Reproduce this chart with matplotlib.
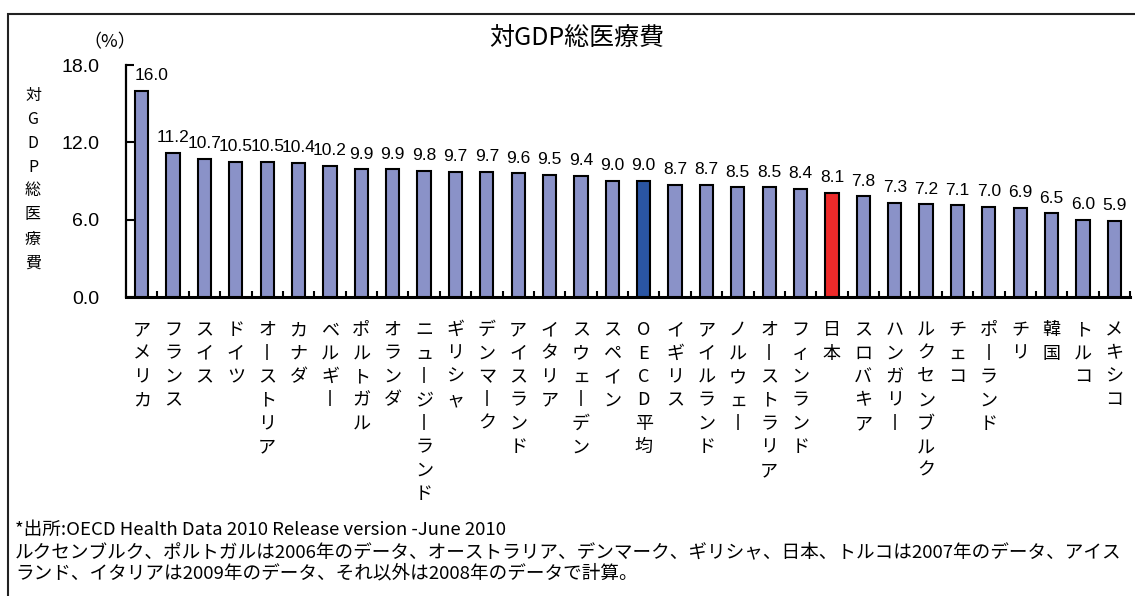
import matplotlib
matplotlib.use("Agg")
import matplotlib.pyplot as plt
from matplotlib.patches import Rectangle

# ---------------- data ----------------
countries = ["アメリカ", "フランス", "スイス", "ドイツ", "オーストリア", "カナダ", "ベルギー",
             "ポルトガル", "オランダ", "ニュージーランド", "ギリシャ", "デンマーク", "アイスランド",
             "イタリア", "スウェーデン", "スペイン", "OECD平均", "イギリス", "アイルランド",
             "ノルウェー", "オーストラリア", "フィンランド", "日本", "スロバキア", "ハンガリー",
             "ルクセンブルク", "チェコ", "ポーランド", "チリ", "韓国", "トルコ", "メキシコ"]
values = [16.0, 11.2, 10.7, 10.5, 10.5, 10.4, 10.2, 9.9, 9.9, 9.8, 9.7, 9.7, 9.6, 9.5, 9.4,
          9.0, 9.0, 8.7, 8.7, 8.5, 8.5, 8.4, 8.1, 7.8, 7.3, 7.2, 7.1, 7.0, 6.9, 6.5, 6.0, 5.9]
yticks = [0.0, 6.0, 12.0, 18.0]
title = "対GDP総医療費"
ylabel = "対GDP総医療費"
unit = "（%）"
notes = ["*出所:OECD Health Data 2010 Release version -June 2010",
         "ルクセンブルク、ポルトガルは2006年のデータ、オーストラリア、デンマーク、ギリシャ、日本、トルコは2007年のデータ、アイス",
         "ランド、イタリアは2009年のデータ、それ以外は2008年のデータで計算。"]

# ---------------- style ----------------
JP = ["Noto Sans CJK JP", "DejaVu Sans"]
plt.rcParams["font.family"] = ["Liberation Sans", "Noto Sans CJK JP", "DejaVu Sans"]

base_color = "#8A92C8"
oecd_color = "#2A55A3"
japan_color = "#EE2A2A"
colors = [oecd_color if c == "OECD平均" else japan_color if c == "日本" else base_color
          for c in countries]

W, H = 1135, 596
fig = plt.figure(figsize=(W / 100, H / 100), dpi=100)
ax = fig.add_axes([126 / W, 1 - 297 / H, 1004 / W, 232 / H])

x = list(range(len(countries)))
bars = ax.bar(x, values, width=0.42, color=colors, edgecolor="black", linewidth=1.5, zorder=3)

ax.set_xlim(-0.5, len(countries) - 0.5)
ax.set_ylim(0, 18)
ax.set_yticks(yticks)
ax.set_yticklabels([f"{v:.1f}" for v in yticks], fontsize=14)
ax.tick_params(axis="y", direction="in", length=6, width=1.5, pad=19)

ax.set_xticks(x)
ax.set_xticklabels([])
ax.tick_params(axis="x", which="major", length=0)
ax.set_xticks([i + 0.5 for i in x], minor=True)
ax.tick_params(axis="x", which="minor", direction="in", length=4, width=1.5)

for s in ["top", "right"]:
    ax.spines[s].set_visible(False)
ax.spines["left"].set_linewidth(1.6)
ax.spines["bottom"].set_linewidth(2.2)

# value labels
texts = ax.bar_label(bars, labels=[f"{v:.1f}" for v in values], padding=5.5, fontsize=12.5)
texts[0].xyann = (7, 5.5)

# vertical category labels (one character per row)
step_pt = 16.9
first_pt = 23.8
for i, name in enumerate(countries):
    chars = list(name.replace("ー", "丨"))
    for k, ch in enumerate(chars):
        ax.annotate(ch, xy=(i, 0), xycoords=("data", "axes fraction"),
                    xytext=(0, -first_pt - k * step_pt), textcoords="offset points",
                    ha="center", va="center", fontsize=13, family=JP,
                    annotation_clip=False)

# vertical y label
for k, ch in enumerate(ylabel):
    fig.text(33 / W, 1 - (95 + k * 24) / H, ch, ha="center", va="center",
             fontsize=11.5, family=JP)

fig.text(110 / W, 1 - 42 / H, unit, ha="center", va="center", fontsize=13, family=JP)
fig.text(577 / W, 1 - 38 / H, title, ha="center", va="center", fontsize=18, family=JP)

note_y = [530, 552, 573]
for yy, t in zip(note_y, notes):
    fig.text(15 / W, 1 - yy / H, t, ha="left", va="center", fontsize=13.4, family=JP)

# outer frame (top and left visible)
fig.add_artist(Rectangle((8 / W, -0.1), 1.2, 1 - 14 / H + 0.1, transform=fig.transFigure,
                         fill=False, edgecolor="#222222", linewidth=1.5))

fig.savefig("out.png", dpi=100)
